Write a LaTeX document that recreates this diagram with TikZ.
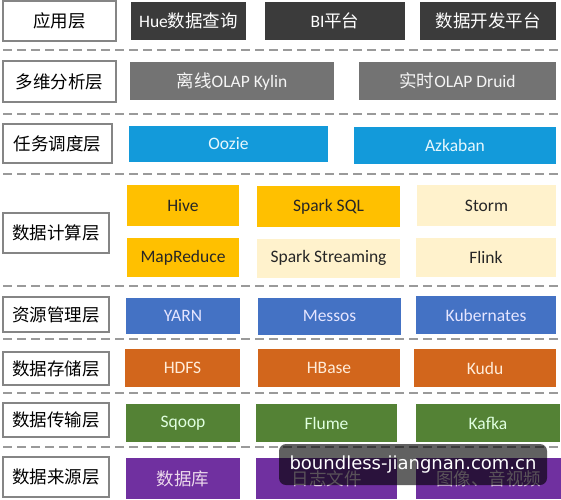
\documentclass[tikz,border=0pt]{standalone}
\usepackage{fontspec}
\setmainfont{Carlito}
\newfontfamily\cjk{Noto Sans CJK SC}
\newfontfamily\markfont{DejaVu Sans}
\usepackage{tikz}

\definecolor{framegray}{HTML}{858585}
\definecolor{sepgray}{HTML}{9A9A9A}
\definecolor{appgray}{HTML}{3B3B3B}
\definecolor{olapgray}{HTML}{737373}
\definecolor{schedblue}{HTML}{139ADA}
\definecolor{batchgold}{HTML}{FFC000}
\definecolor{streamcream}{HTML}{FFF2CC}
\definecolor{resblue}{HTML}{4472C4}
\definecolor{storeorange}{HTML}{D2661C}
\definecolor{movegreen}{HTML}{548235}
\definecolor{srcpurple}{HTML}{7030A0}

\begin{document}
\begin{tikzpicture}[x=1pt,y=-1pt,
    layer/.style={draw=framegray,line width=1.2pt,fill=white,inner sep=0pt,
        font=\cjk\fontsize{17.5}{20}\selectfont},
    tool/.style={inner sep=0pt,font=\fontsize{17.5}{20}\selectfont},
    sep/.style={sepgray,line width=1.4pt,dash pattern=on 9pt off 5pt},
    watermark/.style={fill=black,fill opacity=0.62,text opacity=1,text=white,
        rounded corners=7pt,inner sep=0pt,font=\markfont\fontsize{18}{20}\selectfont}]
        \useasboundingbox (0,0) rectangle (561,499);
        \fill[white] (0,0) rectangle (561,499);
        % separators
        \foreach \y in {50,114,174,286,339,393,447}
        \draw[sep] (3,\y) -- (560,\y);
        % layer names
        \node[layer,minimum width=113,minimum height=40] (app) at (59.5,21) {应用层};
        \node[layer,minimum width=113,minimum height=41] (olap) at (59.5,81.5) {多维分析层};
        \node[layer,minimum width=109,minimum height=39] (sched) at (57.5,143.5) {任务调度层};
        \node[layer,minimum width=106,minimum height=40] (calc) at (56,233) {数据计算层};
        \node[layer,minimum width=106,minimum height=35] (res) at (56,314.5) {资源管理层};
        \node[layer,minimum width=106,minimum height=33] (store) at (56,368.5) {数据存储层};
        \node[layer,minimum width=106,minimum height=34] (move) at (56,420) {数据传输层};
        \node[layer,minimum width=106,minimum height=40] (src) at (56,477) {数据来源层};
        % application
        \node[tool,fill=appgray,text=white,minimum width=115,minimum height=38] (hue) at (188.5,21) {Hue{\cjk 数据查询}};
        \node[tool,fill=appgray,text=white,minimum width=140,minimum height=38] (bi) at (335,21) {BI{\cjk 平台}};
        \node[tool,fill=appgray,text=white,minimum width=136,minimum height=38] (dev) at (488,21) {\cjk 数据开发平台};
        % olap
        \node[tool,fill=olapgray,text=white!92!gray,minimum width=204,minimum height=38] (kylin) at (232,81) {{\cjk 离线}OLAP Kylin};
        \node[tool,fill=olapgray,text=white!92!gray,minimum width=197,minimum height=38] (druid) at (457.5,81) {{\cjk 实时}OLAP Druid};
        % scheduling
        \node[tool,fill=schedblue,text=white!90!cyan,minimum width=199,minimum height=36] (oozie) at (228.5,144) {Oozie};
        \node[tool,fill=schedblue,text=white!90!cyan,minimum width=202,minimum height=37] (azkaban) at (455,145.5) {Azkaban};
        % computing
        \node[tool,fill=batchgold,text=black!85,minimum width=112,minimum height=41] (hive) at (183,205.5) {Hive};
        \node[tool,fill=batchgold,text=black!85,minimum width=143,minimum height=41] (sparksql) at (328.5,206.5) {Spark SQL};
        \node[tool,fill=streamcream,text=black!85,minimum width=139,minimum height=41] (storm) at (486.5,205.5) {Storm};
        \node[tool,fill=batchgold,text=black!85,minimum width=112,minimum height=39] (mapreduce) at (183,257.5) {MapReduce};
        \node[tool,fill=streamcream,text=black!85,minimum width=143,minimum height=39] (streaming) at (328.5,258) {Spark Streaming};
        \node[tool,fill=streamcream,text=black!85,minimum width=140,minimum height=39] (flink) at (486,257.5) {Flink};
        % resources
        \node[tool,fill=resblue,text=white!90!blue,minimum width=114,minimum height=36] (yarn) at (183,316) {YARN};
        \node[tool,fill=resblue,text=white!90!blue,minimum width=143,minimum height=37] (messos) at (329.5,316) {Messos};
        \node[tool,fill=resblue,text=white!90!blue,minimum width=140,minimum height=38] (kube) at (486,315) {Kubernates};
        % storage
        \node[tool,fill=storeorange,text=white!85!orange,minimum width=115,minimum height=38] (hdfs) at (182.5,368) {HDFS};
        \node[tool,fill=storeorange,text=white!85!orange,minimum width=142,minimum height=38] (hbase) at (329,367.5) {HBase};
        \node[tool,fill=storeorange,text=white!85!orange,minimum width=142,minimum height=38] (kudu) at (485,368) {Kudu};
        % transfer
        \node[tool,fill=movegreen,text=white!88!green,minimum width=114,minimum height=38] (sqoop) at (183,423) {Sqoop};
        \node[tool,fill=movegreen,text=white!88!green,minimum width=141,minimum height=38] (flume) at (326.5,423) {Flume};
        \node[tool,fill=movegreen,text=white!88!green,minimum width=144,minimum height=38] (kafka) at (488,423) {Kafka};
        % sources
        \node[tool,fill=srcpurple,text=white!85!violet,minimum width=114,minimum height=41] (db) at (183,478.5) {\cjk 数据库};
        \node[tool,fill=srcpurple,text=white!85!violet,minimum width=141,minimum height=41] (logs) at (326.5,478.5) {\cjk 日志文件};
        \node[tool,fill=srcpurple,text=white!85!violet,minimum width=145,minimum height=41] (media) at (488.5,478.5) {\cjk 图像、音视频};
        \node[watermark,minimum width=268,minimum height=41] (wm) at (413,464.5) {boundless-jiangnan.com.cn};
    \end{tikzpicture}
\end{document}
